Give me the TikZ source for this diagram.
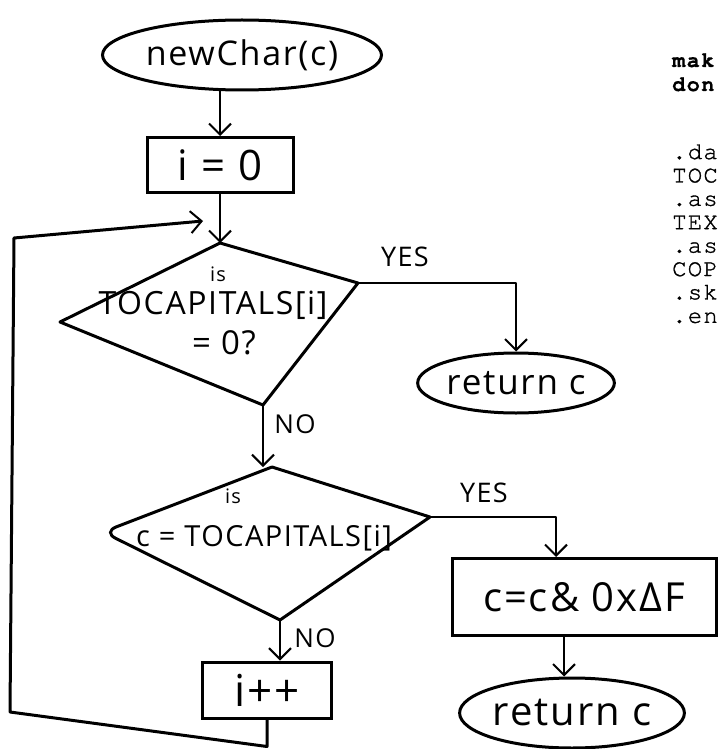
\documentclass[tikz,border=0pt]{standalone}
\usepackage{fontspec}
\setmainfont{Open Sans}[LetterSpace=5]
\newfontfamily\codefont{texgyrecursor-regular.otf}[LetterSpace=5,FakeBold=1.2]
\newfontfamily\codeboldfont{texgyrecursor-bold.otf}[LetterSpace=6,FakeBold=0.6]
\usetikzlibrary{shapes.geometric, arrows.meta, positioning}
\tikzset{%
  hand/.style={font=\fontsize{#1}{#1}\selectfont, inner sep=0pt},
  terminal/.style={draw, ellipse, line width=3pt, inner sep=0pt},
  process/.style={draw, rectangle, line width=3pt, inner sep=0pt},
  flow/.style={line width=2pt, line join=round,
               -{Straight Barb[length=11pt, width=22pt, line width=2pt]}},
  listing/.style={anchor=base west, inner sep=0pt,
                  font=\codefont\fontsize{24}{24}\selectfont},
}

\begin{document}
\begin{tikzpicture}[x=1pt, y=-1pt]
\useasboundingbox (0,0) rectangle (719,749);

% start and first assignment
\node[terminal, hand=34, minimum width=279pt, minimum height=70pt] (start) at (242,55) {newChar(c)};
\node[process, hand=42, minimum width=146pt, minimum height=55pt] (init) at (220,165) {i = 0};

% first decision
\coordinate (d1t) at (220,243);
\coordinate (d1l) at (60,322);
\coordinate (d1r) at (358,283);
\coordinate (d1b) at (263,405);
\draw[line width=3pt, line join=round] (d1t) -- (d1r) -- (d1b) -- (d1l) -- cycle;
\node[hand=20] (d1is) at (218,274) {is};
\node[hand=32] (d1txt) at (213,305) {TOCAPITALS[i]};
\node[hand=33] (d1eq) at (224,343) {= 0?};

\node[terminal, hand=35, minimum width=163pt, minimum height=60pt] (ret1) at (516,383) {return c};

% second decision, rounded on the left
\coordinate (d2t) at (272,467);
\coordinate (d2l) at (103,532);
\coordinate (d2r) at (430,517);
\coordinate (d2b) at (280,620);
\draw[line width=3pt, rounded corners=14pt] (d2t) -- (d2l) -- (d2b);
\draw[line width=3pt, line join=round, line cap=round] (d2t) -- (d2r) -- (d2b);
\node[hand=20] (d2is) at (233,496) {is};
\node[hand=29] (d2txt) at (264,538) {c = TOCAPITALS[i]};

\node[process, hand=40, minimum width=264pt, minimum height=77pt] (mask) at (584,597) {c=c\& 0xΔF};
\node[terminal, hand=40, minimum width=221pt, minimum height=70pt] (ret2) at (572,713) {return c};
\node[process, hand=44, minimum width=129pt, minimum height=56pt] (incr) at (267,690) {i++};

% branch labels
\node[hand=27] (yes1) at (405,257) {YES};
\node[hand=26] (no1) at (295,424) {NO};
\node[hand=27] (yes2) at (484,493) {YES};
\node[hand=26] (no2) at (315,638) {NO};

% connectors
\draw[flow] (init.north |- start.south) -- (init.north);
\draw[flow, line width=1.4pt] (init.south) -- (d1t);
\draw[flow] (d1r) -| (ret1.north);
\draw[flow] (d1b) -- (d1b |- d2t);
\draw[flow] (d2r) -| ([xshift=-28pt]mask.north);
\draw[flow] ([xshift=-20pt]mask.south) -- ([xshift=-20pt]mask.south |- ret2.north);
\draw[flow] (d2b) -- (d2b |- incr.north);

% loop back to the test
\coordinate (loopb) at (10,712);
\coordinate (loopc) at (14,238);
\coordinate (loopin) at (203,221);
\draw[flow, line width=3pt] (incr.south) -- ++(0,27) -- (loopb) -- (loopc) -- (loopin);

% listing at the right
\node[listing, font=\codeboldfont\fontsize{22}{22}\selectfont] (lmak) at (672,67) {mak};
\node[listing, font=\codeboldfont\fontsize{22}{22}\selectfont] (ldon) at (672,91) {don};
\foreach \txt [count=\k] in {.da, TOC, .as, TEX, .as, COP, .sk, .en}
  \node[listing] (line\k) at (672,159+23.4*\k-23.4) {\txt};

\end{tikzpicture}
\end{document}
